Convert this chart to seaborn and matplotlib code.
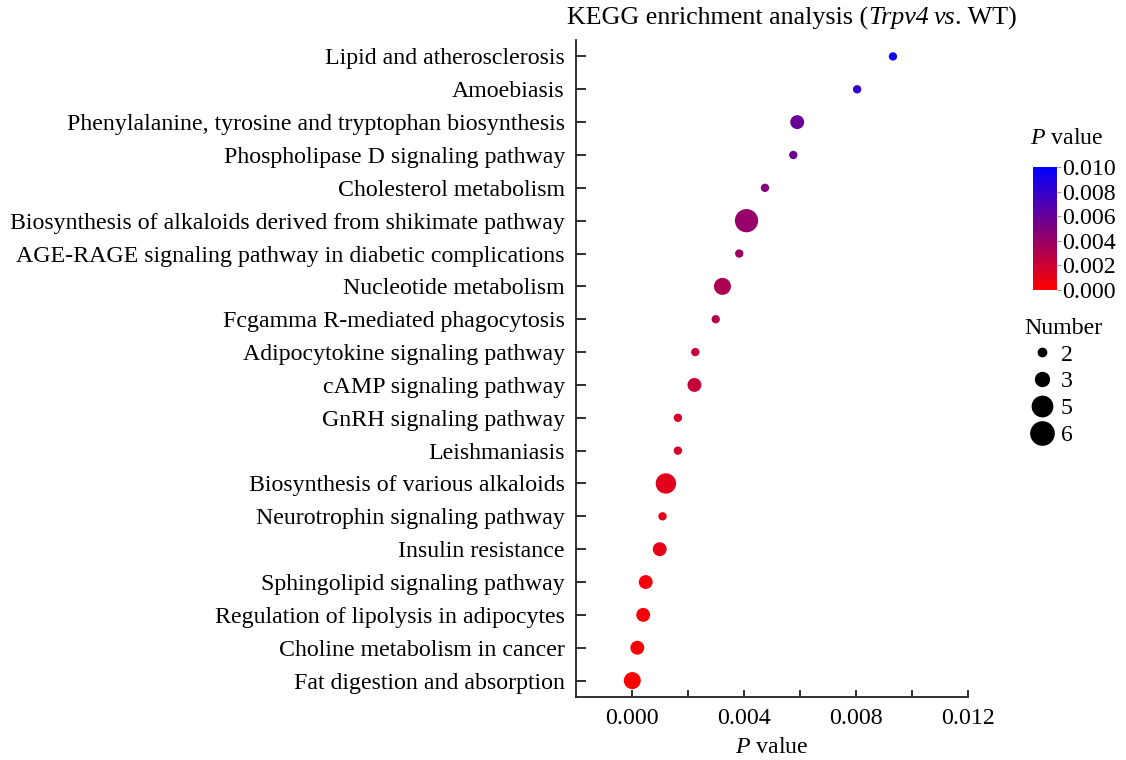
import matplotlib
matplotlib.use("Agg")
import matplotlib.pyplot as plt
import seaborn as sns
import pandas as pd
import numpy as np
from matplotlib.colors import LinearSegmentedColormap, Normalize
from matplotlib.cm import ScalarMappable
from matplotlib.lines import Line2D

pathways = [
    "Lipid and atherosclerosis",
    "Amoebiasis",
    "Phenylalanine, tyrosine and tryptophan biosynthesis",
    "Phospholipase D signaling pathway",
    "Cholesterol metabolism",
    "Biosynthesis of alkaloids derived from shikimate pathway",
    "AGE-RAGE signaling pathway in diabetic complications",
    "Nucleotide metabolism",
    "Fcgamma R-mediated phagocytosis",
    "Adipocytokine signaling pathway",
    "cAMP signaling pathway",
    "GnRH signaling pathway",
    "Leishmaniasis",
    "Biosynthesis of various alkaloids",
    "Neurotrophin signaling pathway",
    "Insulin resistance",
    "Sphingolipid signaling pathway",
    "Regulation of lipolysis in adipocytes",
    "Choline metabolism in cancer",
    "Fat digestion and absorption",
]
p_values = [0.00932, 0.00804, 0.00590, 0.00576, 0.00475, 0.00409, 0.00383,
            0.00323, 0.00299, 0.00226, 0.00223, 0.00164, 0.00164, 0.00121,
            0.00109, 0.00099, 0.00049, 0.00040, 0.00019, 0.00001]
numbers = [2, 2, 3, 2, 2, 6, 2, 4, 2, 2, 3, 2, 2, 5, 2, 3, 3, 3, 3, 4]
legend_numbers = [2, 3, 5, 6]
x_ticks = [0.0, 0.004, 0.008, 0.012]
cb_ticks = [0.0, 0.002, 0.004, 0.006, 0.008, 0.010]

df = pd.DataFrame({"Pathway": pathways, "P value": p_values, "Number": numbers})

sns.set_theme(style="ticks")
plt.rcParams["font.family"] = ["Liberation Serif", "DejaVu Serif"]
plt.rcParams["mathtext.fontset"] = "custom"
plt.rcParams["mathtext.rm"] = "Liberation Serif"
plt.rcParams["mathtext.it"] = "Liberation Serif:italic"
for k in ["text.color", "axes.labelcolor", "xtick.color", "ytick.color"]:
    plt.rcParams[k] = "black"

FS = 17.2
W, H = 1126, 760
fig = plt.figure(figsize=(W / 100, H / 100), dpi=100)

def px_axes(x0, y0, x1, y1):
    return fig.add_axes([x0 / W, 1 - y1 / H, (x1 - x0) / W, (y1 - y0) / H])

ax = px_axes(576, 40, 968, 697)

cmap = LinearSegmentedColormap.from_list("rb", ["#ff0000", "#0000ff"])
norm = Normalize(0.0, 0.01)
size_map = {2: 36, 3: 100, 4: 150, 5: 215, 6: 280}

sns.scatterplot(data=df, x="P value", y="Pathway", hue="P value", palette=cmap,
                hue_norm=norm, size="Number", sizes=size_map, linewidth=0,
                legend=False, ax=ax, zorder=3)

ax.set_ylim(len(pathways) - 0.5, -0.5)
ax.set_xlim(-0.002, 0.012)
ax.set_xticks(x_ticks)
ax.set_xticks([0.002, 0.006, 0.010], minor=True)
ax.set_xticklabels([f"{t:.3f}" for t in x_ticks])
ax.tick_params(axis="x", which="both", direction="in", length=5, width=1.3,
               color="#222222", labelsize=FS, pad=8)
ax.tick_params(axis="y", which="major", direction="in", length=7, width=1.3,
               color="#222222", labelsize=FS, pad=8)
ax.set_xlabel("$P$ value", fontsize=FS, labelpad=6)
ax.set_ylabel("")
for s in ["top", "right"]:
    ax.spines[s].set_visible(False)
for s in ["left", "bottom"]:
    ax.spines[s].set_linewidth(1.3)
    ax.spines[s].set_color("#222222")

# title built from pieces (roman + italic)
pieces = [("KEGG enrichment analysis (", "normal"), ("Trpv4", "italic"),
          (" ", "normal"), ("vs", "italic"), (". WT)", "normal")]
fig.canvas.draw()
renderer = fig.canvas.get_renderer()
x_cur = 567
for s, st in pieces:
    t = fig.text(x_cur / W, 1 - 18 / H, s, ha="left", va="center",
                 fontsize=18.7, fontstyle=st)
    bb = t.get_window_extent(renderer=renderer)
    x_cur = bb.x1
    if s == " ":
        x_cur = bb.x0 + 4.7

# colorbar
cax = px_axes(1033, 167, 1057, 290)
cb = fig.colorbar(ScalarMappable(norm=norm, cmap=cmap), cax=cax)
cb.outline.set_visible(False)
cb.set_ticks(cb_ticks)
cb.set_ticklabels([f"{t:.3f}" for t in cb_ticks])
cax.tick_params(direction="out", length=3, width=0.8, color="#999999",
                labelsize=FS, pad=1)
fig.text(1030 / W, 1 - 138 / H, "$P$ value", ha="left", va="center", fontsize=FS)

# size legend
handles = [Line2D([], [], marker="o", linestyle="", color="black",
                  markersize=np.sqrt(size_map[n])) for n in legend_numbers]
fig.legend(handles, [str(n) for n in legend_numbers], title="Number",
           loc="upper left", bbox_to_anchor=(1012 / W, 1 - 306 / H),
           frameon=False, fontsize=FS, title_fontsize=FS, labelspacing=0.21,
           handletextpad=0.05, borderpad=0, handlelength=1.5, alignment="left")

fig.savefig("out.png", dpi=100)
